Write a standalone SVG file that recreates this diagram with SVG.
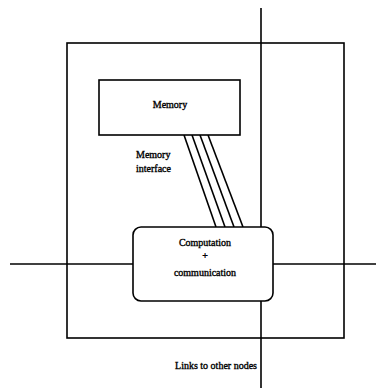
<svg xmlns="http://www.w3.org/2000/svg" width="381" height="388" viewBox="0 0 381 388">
<style>
.ln{stroke:#000;stroke-width:1.6;fill:none}
.bx{stroke:#000;stroke-width:1.6;fill:#fff}
text{font-family:"Liberation Serif","Times New Roman",serif;font-size:10px;fill:#000;stroke:#000;stroke-width:0.35}
</style>
<rect width="381" height="388" fill="#fff"/>
<g id="frame">
<rect class="ln" x="67" y="43" width="277" height="295"/>
</g>
<g id="connectors">
<line class="ln" x1="261" y1="8" x2="261" y2="388"/>
<line class="ln" x1="10" y1="264" x2="376" y2="264"/>
<g id="memory-interface">
<line class="ln" x1="184" y1="135" x2="216" y2="227"/>
<line class="ln" x1="192" y1="135" x2="225" y2="227"/>
<line class="ln" x1="200" y1="135" x2="234" y2="227"/>
<line class="ln" x1="208" y1="135" x2="243" y2="227"/>
</g>
</g>
<g id="memory">
<rect class="bx" x="99" y="80" width="141" height="55"/>
<text x="170" y="108" text-anchor="middle">Memory</text>
</g>
<g id="computation">
<rect class="bx" x="133" y="227" width="140" height="74" rx="8"/>
<text x="205" y="246" text-anchor="middle">Computation</text>
<text x="205" y="259" text-anchor="middle">+</text>
<text x="205" y="276" text-anchor="middle">communication</text>
</g>
<g id="labels">
<text x="136" y="158">Memory</text>
<text x="136" y="172">interface</text>
<text x="257" y="369" text-anchor="end">Links to other nodes</text>
</g>
</svg>
